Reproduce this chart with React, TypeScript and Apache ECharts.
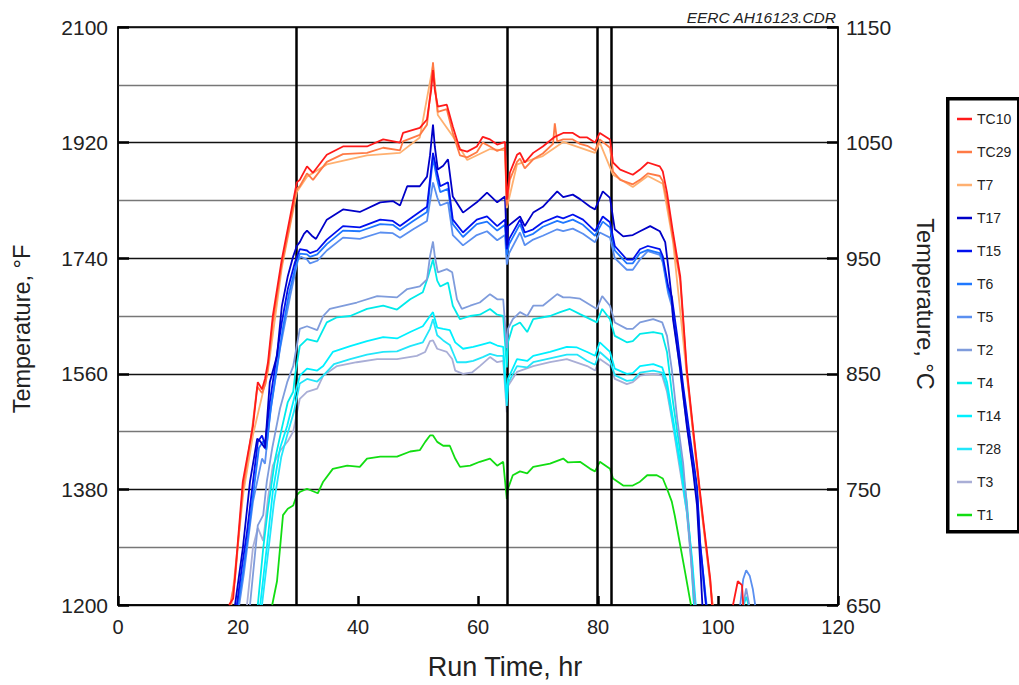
import React, { useEffect, useRef } from "react";
import * as echarts from "echarts";

// ---- data (hours, °F) ----
const seriesNames = ["TC10", "TC29", "T7", "T17", "T15", "T6", "T5", "T2", "T4", "T14", "T28", "T3", "T1"];
const eventTimes = [29.7, 64.8, 79.8, 82.2];
const xTicks = [0, 20, 40, 60, 80, 100, 120];
const leftTicks = [1200, 1380, 1560, 1740, 1920, 2100];
const rightTicks = [650, 750, 850, 950, 1050, 1150];

const TC10: any[] = [[18.5,1200],[19.2,1210],[20.8,1392],[22.5,1479],[23.3,1547],[24.0,1536],[24.5,1552],[25.0,1578],[25.8,1650],[27.3,1738],[28.7,1805],[29.8,1858],[30.3,1862],[31.5,1883],[32.5,1873],[34.8,1901],[37.5,1914],[41.5,1914],[44.2,1925],[47.0,1920],[47.5,1935],[50.3,1943],[51.5,1956],[52.2,2002],[52.5,2033],[52.8,2002],[53.3,1976],[54.8,1979],[55.8,1945],[57.0,1909],[58.2,1906],[59.8,1914],[60.8,1929],[62.0,1925],[63.2,1917],[64.5,1921],[64.8,1831],[65.3,1873],[66.5,1901],[67.0,1904],[67.8,1889],[69.2,1904],[70.8,1914],[72.8,1929],[74.2,1935],[75.8,1935],[77.0,1928],[78.2,1928],[79.5,1920],[80.3,1935],[82.0,1925],[82.5,1889],[83.7,1878],[85.8,1870],[87.0,1878],[88.3,1889],[90.3,1883],[90.8,1875],[91.5,1842],[92.5,1780],[93.7,1712],[94.8,1567],[95.8,1479],[97.0,1376],[97.5,1335],[98.7,1241],[99.0,1200],[100,"-"],[102.5,1200],[103.3,1237],[104.0,1231],[104.2,1200]];
const TC29: any[] = [[18.7,1200],[19.5,1240],[20.8,1380],[22.3,1470],[23.2,1540],[24.0,1530],[24.6,1545],[25.0,1570],[25.8,1640],[27.3,1730],[28.7,1795],[29.8,1848],[30.3,1852],[31.5,1872],[32.5,1862],[34.8,1890],[37.5,1902],[41.5,1904],[44.2,1912],[47.0,1908],[47.5,1922],[50.3,1932],[51.5,1948],[52.2,2010],[52.5,2045],[52.8,2008],[53.3,1968],[54.8,1972],[55.8,1935],[57.0,1900],[58.2,1897],[59.8,1905],[60.8,1920],[62.0,1914],[63.2,1907],[64.5,1912],[64.8,1822],[65.3,1862],[66.5,1890],[67.0,1895],[67.8,1880],[69.2,1894],[70.8,1903],[72.5,1918],[72.8,1950],[73.2,1922],[74.2,1925],[75.8,1925],[77.0,1918],[78.2,1915],[79.5,1908],[80.3,1925],[82.0,1912],[82.5,1875],[83.7,1862],[85.8,1855],[87.0,1862],[88.3,1872],[90.3,1868],[90.8,1860],[91.5,1830],[92.5,1770],[93.7,1705],[94.8,1562],[95.8,1475],[97.0,1372],[97.5,1330],[98.7,1238],[99.1,1200]];
const T7: any[] = [[18.9,1200],[20.9,1375],[22.5,1465],[25.0,1565],[27.3,1725],[29.8,1843],[31.5,1867],[34.8,1886],[41.5,1900],[47.0,1904],[50.3,1928],[52.5,2040],[53.3,1963],[55.8,1930],[58.2,1893],[62.0,1910],[64.5,1908],[64.8,1818],[66.5,1886],[70.8,1899],[74.2,1921],[79.5,1904],[80.3,1920],[82.5,1870],[85.8,1851],[88.3,1868],[90.8,1856],[92.5,1766],[94.8,1558],[97.0,1368],[99.1,1200]];
const T17: any[] = [[19.5,1200],[20.8,1288],[22.0,1392],[23.2,1459],[23.7,1455],[24.5,1444],[25.3,1547],[26.5,1588],[27.3,1665],[28.3,1712],[29.2,1743],[29.8,1759],[30.3,1765],[31.0,1778],[31.5,1783],[32.3,1775],[33.0,1770],[34.8,1800],[37.5,1816],[40.3,1812],[43.7,1827],[45.8,1829],[47.0,1822],[48.2,1852],[50.3,1852],[51.5,1867],[52.0,1900],[52.5,1948],[52.8,1914],[53.3,1878],[54.2,1884],[55.0,1894],[55.8,1836],[57.5,1811],[59.8,1827],[61.5,1842],[63.2,1827],[64.5,1836],[64.8,1760],[65.0,1790],[67.0,1805],[67.8,1790],[69.2,1811],[70.8,1820],[73.2,1844],[74.2,1835],[75.8,1839],[77.0,1832],[78.7,1820],[79.5,1816],[80.8,1844],[82.0,1834],[82.8,1785],[84.2,1774],[85.8,1776],[87.0,1782],[88.7,1790],[90.3,1782],[91.2,1765],[91.7,1727],[92.3,1676],[92.5,1645],[93.7,1567],[94.8,1479],[95.8,1412],[96.5,1355],[97.0,1270],[97.4,1200]];
const T15: any[] = [[19.8,1200],[20.7,1262],[21.5,1314],[22.5,1392],[23.3,1454],[24.0,1464],[24.5,1450],[25.3,1516],[26.2,1572],[27.3,1640],[28.3,1692],[29.5,1734],[30.3,1754],[31.5,1752],[32.0,1748],[33.2,1752],[34.8,1769],[37.5,1790],[40.3,1788],[43.7,1800],[45.8,1798],[47.0,1790],[49.2,1805],[51.5,1820],[52.5,1904],[53.2,1873],[53.7,1852],[55.0,1858],[55.8,1800],[57.5,1780],[59.8,1800],[61.5,1805],[63.2,1790],[64.5,1800],[64.8,1754],[65.2,1770],[67.0,1800],[67.8,1780],[69.2,1785],[70.8,1796],[73.2,1805],[74.2,1802],[75.8,1808],[77.5,1800],[79.5,1782],[80.8,1805],[82.0,1796],[82.8,1759],[84.8,1738],[85.8,1738],[87.0,1754],[88.3,1759],[90.3,1754],[90.8,1743],[91.7,1696],[92.3,1680],[93.2,1619],[94.2,1541],[95.3,1464],[96.5,1386],[97.0,1300],[97.6,1241],[98.0,1200]];
const T6: any[] = [[20.0,1200],[20.9,1255],[21.7,1310],[22.7,1385],[23.5,1445],[24.2,1455],[24.7,1442],[25.5,1508],[26.4,1565],[27.5,1632],[28.5,1685],[29.6,1727],[30.3,1747],[31.5,1746],[32.0,1742],[33.2,1746],[34.8,1762],[37.5,1783],[40.3,1782],[43.7,1793],[45.8,1792],[47.0,1784],[49.2,1798],[51.5,1812],[52.5,1895],[53.2,1862],[53.7,1843],[55.0,1848],[55.8,1793],[57.5,1773],[59.8,1793],[61.5,1797],[63.2,1783],[64.5,1792],[64.8,1745],[65.2,1762],[67.0,1793],[67.8,1773],[69.2,1778],[70.8,1789],[73.2,1798],[74.2,1795],[75.8,1800],[77.5,1792],[79.5,1775],[80.8,1797],[82.0,1788],[82.8,1752],[84.8,1732],[85.8,1732],[87.0,1748],[88.3,1753],[90.3,1748],[90.8,1737],[91.7,1690],[92.3,1672],[93.2,1610],[94.2,1533],[95.3,1456],[96.5,1378],[97.0,1295],[97.7,1235],[98.1,1200]];
const T5: any[] = [[20.2,1200],[21.0,1250],[22.5,1361],[24.0,1428],[24.5,1420],[25.3,1495],[27.0,1599],[28.7,1681],[30.0,1738],[30.5,1742],[31.5,1738],[32.0,1732],[33.2,1736],[34.8,1752],[37.5,1772],[40.3,1770],[43.7,1780],[45.8,1779],[47.0,1772],[49.2,1785],[51.5,1798],[52.5,1858],[53.2,1835],[53.7,1822],[55.0,1827],[55.8,1776],[57.5,1760],[59.8,1776],[61.5,1782],[63.2,1768],[64.5,1776],[64.8,1730],[65.2,1748],[67.0,1780],[67.8,1760],[69.2,1769],[70.8,1775],[73.2,1785],[74.2,1782],[75.8,1786],[77.5,1778],[79.5,1765],[80.3,1780],[82.0,1772],[82.8,1740],[84.8,1722],[85.8,1722],[87.0,1738],[88.3,1751],[90.3,1745],[90.8,1733],[91.7,1685],[92.3,1665],[93.2,1602],[94.2,1525],[95.3,1448],[96.5,1370],[97.0,1290],[97.6,1230],[98.0,1200],[100,"-"],[103.7,1200],[104.2,1240],[104.7,1254],[105.3,1245],[105.8,1225],[106.2,1200]];
const T2: any[] = [[22.0,1200],[23.3,1324],[24.2,1340],[24.8,1392],[25.7,1444],[27.0,1506],[28.2,1547],[29.2,1572],[30.3,1630],[31.5,1634],[33.2,1628],[34.2,1650],[35.3,1661],[39.8,1671],[43.2,1681],[46.5,1679],[48.2,1692],[50.3,1696],[51.5,1707],[52.0,1743],[52.5,1766],[52.8,1743],[53.3,1718],[54.8,1723],[55.7,1718],[56.5,1676],[57.3,1661],[58.7,1666],[60.3,1671],[62.0,1684],[63.2,1676],[64.2,1676],[64.8,1600],[65.0,1630],[65.8,1645],[67.0,1656],[68.2,1650],[69.2,1666],[70.8,1666],[73.2,1684],[74.2,1679],[75.3,1679],[77.0,1677],[79.8,1661],[80.7,1681],[82.0,1666],[82.8,1640],[84.8,1630],[85.8,1630],[87.0,1640],[89.2,1645],[90.7,1640],[91.5,1619],[92.3,1567],[93.2,1490],[94.2,1420],[95.0,1330],[95.7,1250],[96.2,1200],[100,"-"],[104.2,1200],[104.7,1226],[105.2,1200]];
const T4: any[] = [[23.3,1200],[24.2,1288],[25.0,1350],[26.2,1428],[27.3,1475],[28.3,1516],[29.2,1532],[29.5,1557],[30.3,1603],[31.5,1614],[33.2,1610],[34.8,1640],[36.5,1648],[38.7,1650],[41.5,1661],[44.2,1666],[46.5,1660],[48.7,1676],[50.8,1687],[51.7,1712],[52.5,1738],[53.2,1705],[53.7,1696],[55.0,1702],[55.8,1666],[57.0,1645],[58.7,1650],[60.3,1652],[62.0,1661],[63.2,1652],[64.2,1650],[64.8,1570],[65.0,1609],[65.8,1634],[67.0,1640],[68.2,1625],[69.2,1645],[72.0,1650],[73.7,1656],[75.3,1661],[77.0,1653],[79.8,1640],[80.7,1661],[82.0,1645],[82.8,1619],[84.8,1609],[85.8,1611],[87.0,1622],[89.2,1625],[90.7,1622],[91.5,1594],[92.5,1516],[93.7,1439],[94.8,1361],[95.5,1280],[96.0,1200],[100,"-"],[104.3,1200],[104.7,1213],[105.1,1200]];
const T14: any[] = [[23.7,1200],[24.8,1290],[25.8,1376],[27.0,1444],[28.2,1479],[29.2,1516],[30.3,1557],[31.5,1568],[33.2,1565],[34.2,1572],[35.8,1594],[38.7,1603],[41.5,1611],[44.2,1617],[46.5,1615],[48.7,1625],[50.8,1634],[52.0,1650],[52.5,1656],[53.2,1632],[54.2,1630],[55.3,1628],[56.2,1609],[57.5,1599],[59.2,1602],[60.8,1606],[62.0,1609],[63.2,1604],[64.2,1602],[64.8,1520],[65.0,1552],[66.5,1583],[68.2,1580],[69.2,1588],[72.0,1594],[74.8,1602],[76.5,1601],[78.2,1594],[79.5,1588],[80.3,1609],[82.0,1594],[82.8,1568],[84.8,1560],[85.8,1561],[87.0,1572],[89.2,1575],[90.7,1570],[91.5,1547],[92.5,1490],[93.7,1423],[94.8,1350],[95.7,1270],[96.3,1200]];
const T28: any[] = [[24.0,1200],[25.0,1280],[26.0,1360],[27.2,1430],[28.3,1468],[29.3,1500],[30.3,1545],[31.5,1552],[33.2,1548],[34.2,1557],[36.0,1575],[38.7,1583],[41.5,1590],[44.2,1594],[46.5,1595],[48.7,1603],[50.8,1609],[52.0,1630],[52.5,1645],[53.2,1620],[54.2,1612],[55.3,1605],[56.5,1578],[58.0,1578],[59.2,1580],[60.8,1586],[62.0,1591],[63.2,1588],[64.2,1588],[64.8,1510],[65.0,1545],[66.5,1572],[68.2,1570],[69.2,1578],[72.0,1584],[74.8,1590],[76.5,1590],[78.2,1580],[79.5,1574],[80.3,1594],[82.0,1580],[82.8,1558],[84.8,1549],[85.8,1550],[87.0,1562],[89.2,1565],[90.7,1562],[91.5,1538],[92.5,1483],[93.7,1415],[94.8,1345],[95.7,1262],[96.2,1200]];
const T3: any[] = [[21.5,1200],[22.5,1290],[23.3,1320],[24.2,1300],[25.0,1366],[25.8,1417],[27.0,1440],[28.3,1455],[29.2,1470],[30.3,1521],[31.5,1532],[33.2,1537],[34.2,1557],[36.5,1572],[39.8,1578],[43.2,1583],[46.5,1583],[49.8,1588],[51.2,1594],[52.0,1611],[52.5,1612],[53.2,1599],[54.8,1594],[55.7,1583],[56.2,1565],[57.5,1560],[59.0,1562],[60.3,1572],[62.0,1586],[63.2,1578],[64.2,1580],[64.8,1500],[65.0,1541],[66.5,1563],[69.2,1572],[72.0,1578],[74.8,1583],[78.2,1572],[79.5,1565],[80.3,1583],[82.0,1572],[82.8,1552],[84.8,1544],[85.8,1547],[87.0,1557],[89.2,1560],[90.7,1557],[91.5,1532],[92.5,1479],[93.7,1408],[94.8,1345],[95.5,1270],[96.0,1200]];
const T1: any[] = [[25.7,1200],[26.5,1237],[27.0,1288],[27.5,1340],[28.3,1350],[29.2,1355],[29.8,1371],[30.3,1376],[31.5,1381],[33.3,1374],[34.2,1392],[35.8,1412],[38.2,1417],[40.3,1415],[41.5,1428],[43.7,1431],[46.5,1431],[48.7,1439],[50.3,1441],[51.2,1454],[52.0,1464],[52.5,1464],[53.2,1454],[54.2,1448],[55.3,1448],[56.2,1428],[57.0,1415],[58.7,1417],[60.3,1423],[62.0,1428],[63.2,1417],[64.2,1423],[64.8,1365],[65.0,1381],[65.8,1402],[67.0,1408],[68.2,1405],[69.2,1415],[72.0,1420],[74.2,1428],[75.0,1422],[77.0,1423],[78.7,1412],[79.5,1408],[80.3,1423],[82.0,1412],[82.5,1397],[84.2,1386],[85.8,1386],[87.0,1392],[88.2,1402],[89.8,1402],[90.8,1397],[91.5,1381],[92.3,1361],[92.8,1339],[93.7,1293],[94.5,1252],[95.3,1210],[95.5,1200]];

const seriesData = [TC10, TC29, T7, T17, T15, T6, T5, T2, T4, T14, T28, T3, T1];
const seriesColors = ["#ff1a1a", "#ff7a45", "#ffb070", "#0000c8", "#0010ee", "#1f78ff", "#5a8ff0", "#7f9cdc", "#00eaea", "#00f0ff", "#22e6fa", "#a9aed6", "#12dd12"];

const FONT = "'Liberation Sans', Arial, Helvetica, sans-serif";

export default function App() {
  const ref = useRef<HTMLDivElement>(null);
  useEffect(() => {
    if (!ref.current) return;
    const chart = echarts.init(ref.current, null, { renderer: "svg" });
    const drawOrder = [12, 11, 10, 9, 8, 7, 6, 5, 4, 3, 2, 1, 0];
    const series: any[] = drawOrder.map((i, k) => ({
      name: seriesNames[i],
      type: "line",
      data: seriesData[i],
      showSymbol: false,
      symbol: "none",
      connectNulls: false,
      lineStyle: { color: seriesColors[i], width: 1.8 },
      itemStyle: { color: seriesColors[i] },
      z: 3 + k,
    }));
    series.push({
      name: "events",
      type: "line",
      data: [],
      z: 30,
      markLine: {
        silent: true,
        symbol: ["none", "none"],
        label: { show: false },
        lineStyle: { color: "#000", width: 2.5, type: "solid" },
        data: eventTimes.map((t) => ({ xAxis: t })),
      },
    });
    chart.setOption({
      animation: false,
      backgroundColor: "#fff",
      textStyle: { fontFamily: FONT },
      grid: { left: 118, top: 27, right: 181, bottom: 80, show: true, borderColor: "#000", borderWidth: 1.5, backgroundColor: "transparent" },
      legend: {
        data: seriesNames,
        orient: "vertical",
        left: 952,
        top: 107,
        icon: "rect",
        itemWidth: 15,
        itemHeight: 2.5,
        itemGap: 19,
        textStyle: { fontSize: 14, color: "#222", fontFamily: FONT },
      },
      xAxis: {
        type: "value",
        min: xTicks[0],
        max: xTicks[xTicks.length - 1],
        interval: 20,
        axisLine: { show: true, lineStyle: { color: "#000", width: 1.5 } },
        axisTick: { show: true, inside: true, length: 9, lineStyle: { color: "#000", width: 2.5 } },
        axisLabel: { fontSize: 20, color: "#222", margin: 12, fontFamily: FONT },
        splitLine: { show: false },
      },
      yAxis: [
        {
          type: "value",
          min: 1200,
          max: 2100,
          interval: 90,
          position: "left",
          axisLine: { show: true, lineStyle: { color: "#000", width: 1.5 } },
          axisTick: { show: false },
          axisLabel: {
            fontSize: 21,
            color: "#222",
            margin: 10,
            fontFamily: FONT,
            formatter: (v: number) => (leftTicks.indexOf(v) >= 0 ? String(v) : ""),
          },
          splitLine: { show: true, lineStyle: { color: ["#111", "#777"], width: 1.3 } },
        },
        {
          type: "value",
          min: rightTicks[0],
          max: rightTicks[rightTicks.length - 1],
          interval: 100,
          position: "right",
          axisLine: { show: true, lineStyle: { color: "#000", width: 1.5 } },
          axisTick: { show: true, inside: true, length: 11, lineStyle: { color: "#000", width: 2.5 } },
          axisLabel: { fontSize: 21, color: "#222", margin: 8, fontFamily: FONT, formatter: (v: number) => String(v) },
          splitLine: { show: false },
        },
        {
          type: "value",
          min: 1200,
          max: 2100,
          interval: 180,
          position: "left",
          axisLine: { show: false },
          axisTick: { show: true, inside: true, length: 11, lineStyle: { color: "#000", width: 2.5 } },
          axisLabel: { show: false },
          splitLine: { show: false },
        },
      ],
      graphic: [
        { type: "rect", left: 946, top: 97, shape: { x: 0, y: 0, width: 71, height: 433 }, style: { fill: "#fff", stroke: "#000", lineWidth: 3.5 }, z: -1 },
        { type: "text", x: 22, y: 329, rotation: Math.PI / 2, style: { text: "Temperature, °F", fontSize: 23.5, fill: "#222", fontFamily: FONT, align: "center", verticalAlign: "middle" } },
        { type: "text", x: 925, y: 304, rotation: -Math.PI / 2, style: { text: "Temperature, °C", fontSize: 23.5, fill: "#222", fontFamily: FONT, align: "center", verticalAlign: "middle" } },
        { type: "text", x: 505, y: 667, style: { text: "Run Time, hr", fontSize: 27, fill: "#222", fontFamily: FONT, align: "center", verticalAlign: "middle" } },
        { type: "text", x: 836, y: 17, style: { text: "EERC AH16123.CDR", fontSize: 15.5, fontStyle: "italic", fill: "#222", fontFamily: FONT, align: "right", verticalAlign: "middle" } },
      ],
      series,
    });
    return () => chart.dispose();
  }, []);
  return <div ref={ref} style={{ position: "fixed", left: 0, top: 0, width: 1019, height: 685 }} />;
}
